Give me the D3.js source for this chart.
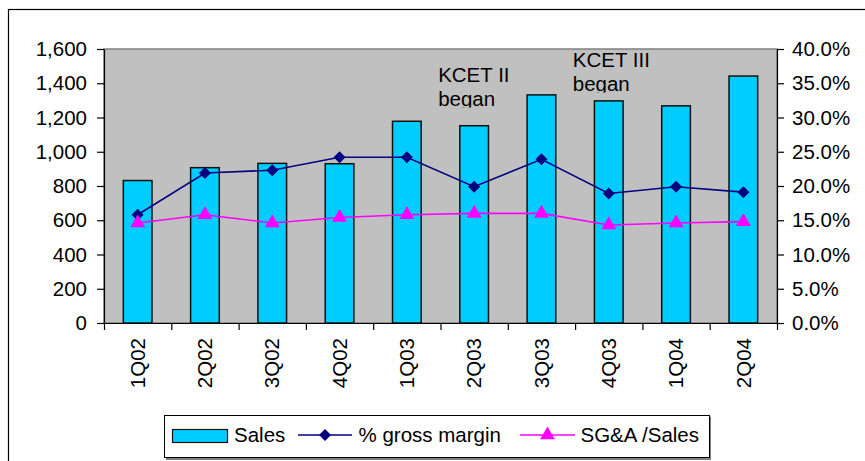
<!DOCTYPE html>
<html>
<head>
<meta charset="utf-8">
<script src="https://cdn.jsdelivr.net/npm/d3@7"></script>
<style>
  body { margin: 0; background: #fff; }
  svg text { font-family: "Liberation Sans", Arial, sans-serif; fill: #000; }
</style>
</head>
<body>
<svg id="chart" width="865" height="461"></svg>
<script>
// quarterly data
var quarters = ["1Q02", "2Q02", "3Q02", "4Q02", "1Q03", "2Q03", "3Q03", "4Q03", "1Q04", "2Q04"];
var sales = [832, 907, 932, 930, 1178, 1152, 1332, 1297, 1268, 1442];
var grossMargin = [0.158, 0.219, 0.223, 0.242, 0.242, 0.199, 0.239, 0.189, 0.199, 0.191];
var sgaRatio = [0.146, 0.158, 0.146, 0.154, 0.158, 0.160, 0.160, 0.143, 0.146, 0.148];
var leftTicks = [0, 200, 400, 600, 800, 1000, 1200, 1400, 1600];
var rightTicks = [0, 0.05, 0.10, 0.15, 0.20, 0.25, 0.30, 0.35, 0.40];
var noteQuarters = ["2Q03", "4Q03"];
var noteLines = [["KCET II", "began"], ["KCET III", "began"]];
var legendNames = ["Sales", "% gross margin", "SG&A /Sales"];

var FONT = "20.5px";
var BAR = "#00CCFF", GM = "#000080", SGA = "#FF00FF";

var svg = d3.select("#chart");
var plot = {left: 104, right: 777, top: 49, bottom: 323};

// outer chart frame (runs off the right and bottom edge)
svg.append("rect")
	.attr("x", 8.5).attr("y", 9.5)
	.attr("width", 900).attr("height", 500)
	.attr("fill", "#fff").attr("stroke", "#000").attr("stroke-width", 1.2);

// plot area
svg.append("rect")
	.attr("x", plot.left).attr("y", plot.top)
	.attr("width", plot.right - plot.left).attr("height", plot.bottom - plot.top)
	.attr("fill", "#C0C0C0").attr("stroke", "#808080").attr("stroke-width", 1.5);

var x = d3.scaleBand()
	.domain(quarters)
	.range([plot.left, plot.right])
	.paddingInner(0.574)
	.paddingOuter(0.287);
var yLeft = d3.scaleLinear().domain([0, 1600]).range([plot.bottom, plot.top]);
var yRight = d3.scaleLinear().domain([0, 0.4]).range([plot.bottom, plot.top]);
var cx = function(q) { return x(q) + x.bandwidth() / 2; };

// bars
svg.append("g").selectAll("rect")
	.data(quarters)
	.enter().append("rect")
	.attr("x", function(d) { return x(d); })
	.attr("width", x.bandwidth())
	.attr("y", function(d, i) { return yLeft(sales[i]); })
	.attr("height", function(d, i) { return yLeft(0) - yLeft(sales[i]); })
	.attr("fill", BAR)
	.attr("stroke", "#111")
	.attr("stroke-width", 1.5);

// axes
function styleAxis(g) {
	g.attr("font-size", null).attr("font-family", null);
	g.selectAll("text").style("font-size", FONT);
	g.selectAll("line, path").attr("stroke", "#000").attr("stroke-width", 1.2);
}
svg.append("g")
	.attr("transform", "translate(" + plot.left + ",0)")
	.call(d3.axisLeft(yLeft).tickValues(leftTicks).tickFormat(d3.format(",")).tickSize(7).tickSizeOuter(0).tickPadding(10))
	.call(styleAxis);
svg.append("g")
	.attr("transform", "translate(" + plot.right + ",0)")
	.call(d3.axisRight(yRight).tickValues(rightTicks).tickFormat(d3.format(".1%")).tickSize(7).tickSizeOuter(0).tickPadding(8))
	.call(styleAxis);

// category axis: ticks between quarters, rotated labels
var xEdge = d3.scaleLinear().domain([0, quarters.length]).range([plot.left, plot.right]);
svg.append("g")
	.attr("transform", "translate(0," + plot.bottom + ")")
	.call(d3.axisBottom(xEdge).tickValues(d3.range(quarters.length + 1)).tickFormat("").tickSize(7).tickSizeOuter(0))
	.call(styleAxis);
svg.append("g").selectAll("text")
	.data(quarters)
	.enter().append("text")
	.attr("transform", function(d) { return "translate(" + cx(d) + "," + (plot.bottom + 15) + ") rotate(-90)"; })
	.attr("text-anchor", "end")
	.attr("dy", "0.35em")
	.style("font-size", FONT)
	.text(function(d) { return d; });

// markers: square diamond (Excel style) and triangle
var markers = {
	diamond: {type: d3.symbolSquare, size: 72, rotate: 45},
	triangle: {type: d3.symbolTriangle, size: 95, rotate: 0}
};
function marker(sel, m) {
	sel.attr("d", d3.symbol().type(m.type).size(m.size));
}

// lines
function drawSeries(values, scale, color, m) {
	var line = d3.line()
		.x(function(d, i) { return cx(quarters[i]); })
		.y(function(d) { return scale(d); });
	svg.append("path")
		.datum(values)
		.attr("d", line)
		.attr("fill", "none")
		.attr("stroke", color)
		.attr("stroke-width", 1.6);
	svg.append("g").selectAll("path")
		.data(values)
		.enter().append("path")
		.attr("transform", function(d, i) { return "translate(" + cx(quarters[i]) + "," + scale(d) + ") rotate(" + m.rotate + ")"; })
		.call(marker, m)
		.attr("fill", color);
}
drawSeries(grossMargin, yRight, GM, markers.diamond);
drawSeries(sgaRatio, yRight, SGA, markers.triangle);

// annotations, clipped at the bottom like the original text boxes
var noteTop = [82, 67];
noteQuarters.forEach(function(q, k) {
	var x0 = cx(q) - 36;
	var base = noteTop[k];
	var clipId = "note" + k;
	svg.append("clipPath").attr("id", clipId)
		.append("rect")
		.attr("x", x0 - 2).attr("y", base - 22)
		.attr("width", 110).attr("height", 23.5 + 24);
	var t = svg.append("text")
		.attr("clip-path", "url(#" + clipId + ")")
		.style("font-size", FONT);
	noteLines[k].forEach(function(s, j) {
		t.append("tspan").attr("x", x0).attr("y", base + j * 23.5).text(s);
	});
});

// legend
var lg = svg.append("g");
lg.append("rect")
	.attr("x", 166).attr("y", 417).attr("width", 545).attr("height", 43)
	.attr("fill", "#808080");
lg.append("rect")
	.attr("x", 164.5).attr("y", 415.5).attr("width", 545).attr("height", 42)
	.attr("fill", "#fff").attr("stroke", "#000").attr("stroke-width", 1);
var legY = 435;
lg.append("rect")
	.attr("x", 172.5).attr("y", 429.5).attr("width", 55).attr("height", 13)
	.attr("fill", BAR).attr("stroke", "#111").attr("stroke-width", 1.2);
lg.append("text").attr("x", 234).attr("y", legY).attr("dy", "0.35em").style("font-size", FONT).text(legendNames[0]);

[[298, 352, GM, markers.diamond, 358.5, legendNames[1]],
 [520, 575, SGA, markers.triangle, 580.5, legendNames[2]]].forEach(function(e) {
	lg.append("line")
		.attr("x1", e[0]).attr("x2", e[1]).attr("y1", legY).attr("y2", legY)
		.attr("stroke", e[2]).attr("stroke-width", 1.6);
	lg.append("path")
		.attr("transform", "translate(" + ((e[0] + e[1]) / 2) + "," + legY + ") rotate(" + e[3].rotate + ")")
		.call(marker, e[3])
		.attr("fill", e[2]);
	lg.append("text").attr("x", e[4]).attr("y", legY).attr("dy", "0.35em").style("font-size", FONT).text(e[5]);
});
</script>
</body>
</html>
